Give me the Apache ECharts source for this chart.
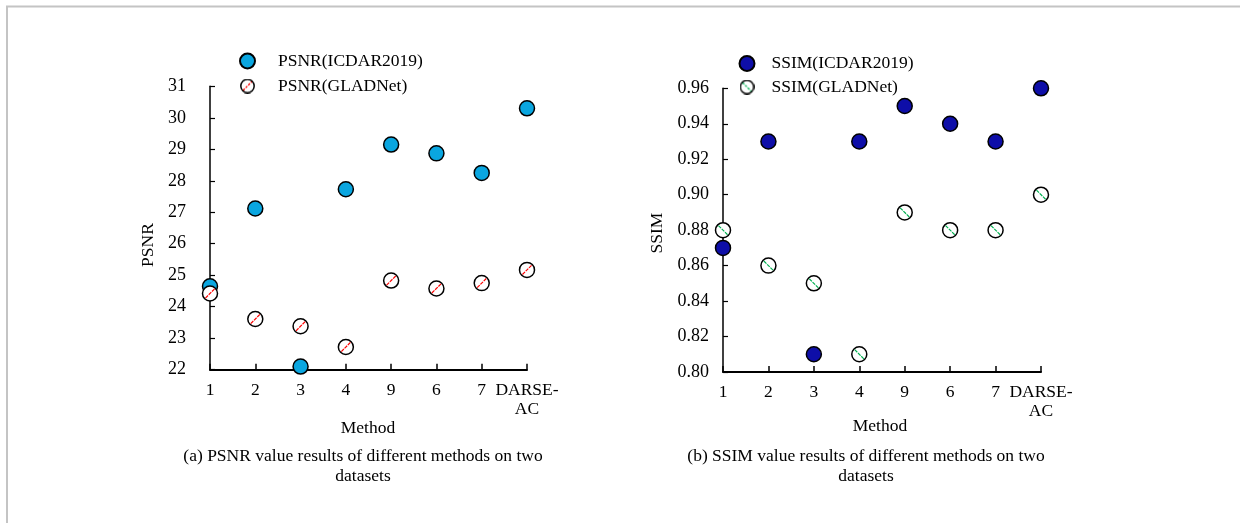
<!DOCTYPE html>
<html><head><meta charset="utf-8">
<script src="https://cdn.jsdelivr.net/npm/echarts@6/dist/echarts.min.js"></script>
<style>html,body{margin:0;padding:0;background:#fff}#c{width:1240px;height:523px}</style>
</head><body><div id="c"></div>
<script>
const methods = ['1','2','3','4','9','6','7','DARSE-\nAC'];
const psnrICDAR = [24.65, 27.12, 22.1, 27.73, 29.15, 28.87, 28.25, 30.3];
const psnrGLAD  = [24.42, 23.61, 23.38, 22.72, 24.83, 24.58, 24.75, 25.17];
const ssimICDAR = [0.87, 0.93, 0.81, 0.93, 0.95, 0.94, 0.93, 0.96];
const ssimGLAD  = [0.88, 0.86, 0.85, 0.81, 0.89, 0.88, 0.88, 0.90];
const psnrTicks = {min: 22, max: 31, interval: 1};
const ssimTicks = {min: 0.80, max: 0.96, interval: 0.02};

const FONT = '"Liberation Serif","Times New Roman",serif';
const FS = 17.5;

// dashed diagonal symbol path (vector)
function dashPath(slash) {
  const h = 0.55, segs = [[0,3.4],[4.3,7.7],[8.6,12]];
  let d = '';
  for (const [a,b] of segs) {
    let pts;
    if (slash) pts = [[a+h,12-a+h],[b+h,12-b+h],[b-h,12-b-h],[a-h,12-a-h]];
    else pts = [[a+h,a-h],[b+h,b-h],[b-h,b+h],[a-h,a+h]];
    d += 'M' + pts.map(p => p[0].toFixed(2)+','+p[1].toFixed(2)).join('L') + 'Z';
  }
  return 'path://' + d;
}
// legend icon image, drawn at 1x
function legendIcon(color, slash) {
  const c = document.createElement('canvas');
  c.width = c.height = 15;
  const g = c.getContext('2d');
  g.beginPath(); g.arc(7.5,7.5,6.7,0,Math.PI*2);
  g.fillStyle = '#fff'; g.fill();
  g.strokeStyle = color; g.lineWidth = 1.3; g.setLineDash([2.5,1.2]);
  g.beginPath();
  if (slash) { g.moveTo(3,12); g.lineTo(12,3); } else { g.moveTo(3,3); g.lineTo(12,12); }
  g.stroke();
  g.beginPath(); g.arc(7.5,7.5,6.7,0,Math.PI*2);
  g.strokeStyle = '#000'; g.lineWidth = 1.5; g.setLineDash([]); g.stroke();
  return 'image://' + c.toDataURL();
}

const chart = echarts.init(document.getElementById('c'), null, {renderer: 'canvas'});

function xAx(gi) {
  return {
    type: 'category', gridIndex: gi, data: methods, boundaryGap: false,
    axisLine: {lineStyle: {color: '#000', width: 2}},
    axisTick: {inside: true, length: 6, lineStyle: {color: '#000', width: 1.5}},
    axisLabel: {fontFamily: FONT, fontSize: FS, color: '#000', margin: 11, lineHeight: 19, interval: 0},
    splitLine: {show: false}
  };
}
function yAx(gi, t, fmt, margin) {
  return {
    type: 'value', gridIndex: gi, min: t.min, max: t.max, interval: t.interval,
    axisLine: {show: true, lineStyle: {color: '#000', width: 1.5}},
    axisTick: {show: true, inside: true, length: 5, lineStyle: {color: '#000', width: 1.2}},
    axisLabel: {fontFamily: FONT, fontSize: 18, color: '#000', margin: margin, formatter: fmt},
    splitLine: {show: false}
  };
}
function openSeries(name, xi, data) {
  return {name: name, type: 'scatter', xAxisIndex: xi, yAxisIndex: xi, data: data,
    symbol: 'circle', symbolSize: 15, z: 3,
    itemStyle: {color: '#fff', borderColor: '#000', borderWidth: 1.5, opacity: 1}};
}
function dashSeries(xi, data, color, slash) {
  return {name: 'dash' + xi, type: 'scatter', xAxisIndex: xi, yAxisIndex: xi, data: data,
    symbol: dashPath(slash), symbolSize: 10, z: 4, silent: true,
    itemStyle: {color: color, opacity: 1}};
}
function txt(x, y, s, rot) {
  return {type: 'text', x: x, y: y, rotation: rot || 0,
    style: {text: s, font: FS + 'px ' + FONT, lineHeight: 20, fill: '#000', textAlign: 'center', textVerticalAlign: 'middle'}};
}

const option = {
  animation: false,
  backgroundColor: '#fff',
  grid: [
    {left: 210, top: 86.3, width: 317, height: 283.4},
    {left: 723, top: 88.3, width: 318, height: 283.7}
  ],
  xAxis: [xAx(0), xAx(1)],
  yAxis: [
    yAx(0, psnrTicks, v => String(v), 24),
    yAx(1, ssimTicks, v => v.toFixed(2), 14)
  ],
  legend: [
    {data: ['PSNR(ICDAR2019)', {name: 'PSNR(GLADNet)', icon: legendIcon('#ff0000', true)}],
     left: 234, top: 47, orient: 'vertical',
     itemWidth: 15, itemHeight: 15, itemGap: 7,
     textStyle: {fontFamily: FONT, fontSize: FS, color: '#000', padding: [0,0,0,18]}},
    {data: ['SSIM(ICDAR2019)', {name: 'SSIM(GLADNet)', icon: legendIcon('#00b050', false)}],
     left: 733.5, top: 49.5, orient: 'vertical',
     itemWidth: 15, itemHeight: 15, itemGap: 5.5,
     textStyle: {fontFamily: FONT, fontSize: FS, color: '#000', padding: [0,0,0,12]}}
  ],
  series: [
    {name: 'PSNR(ICDAR2019)', type: 'scatter', xAxisIndex: 0, yAxisIndex: 0, data: psnrICDAR,
     symbol: 'circle', symbolSize: 15, z: 2, itemStyle: {color: '#0aa6e0', borderColor: '#000', borderWidth: 1.5, opacity: 1}},
    openSeries('PSNR(GLADNet)', 0, psnrGLAD),
    dashSeries(0, psnrGLAD, '#ff0000', true),
    {name: 'SSIM(ICDAR2019)', type: 'scatter', xAxisIndex: 1, yAxisIndex: 1, data: ssimICDAR,
     symbol: 'circle', symbolSize: 15, z: 2, itemStyle: {color: '#0e0ea8', borderColor: '#000', borderWidth: 1.5, opacity: 1}},
    openSeries('SSIM(GLADNet)', 1, ssimGLAD),
    dashSeries(1, ssimGLAD, '#00b050', false)
  ],
  graphic: [
    {type: 'rect', shape: {x: 7, y: 6.5, width: 1400, height: 700}, style: {fill: 'none', stroke: '#c4c4c4', lineWidth: 2}, silent: true},
    txt(148, 245, 'PSNR', Math.PI/2),
    txt(657, 233, 'SSIM', Math.PI/2),
    txt(368, 428, 'Method'),
    txt(880, 426.7, 'Method'),
    txt(363, 466.5, '(a) PSNR value results of different methods on two\ndatasets'),
    txt(866, 466.5, '(b) SSIM value results of different methods on two\ndatasets')
  ]
};
chart.setOption(option);
</script>
</body></html>
